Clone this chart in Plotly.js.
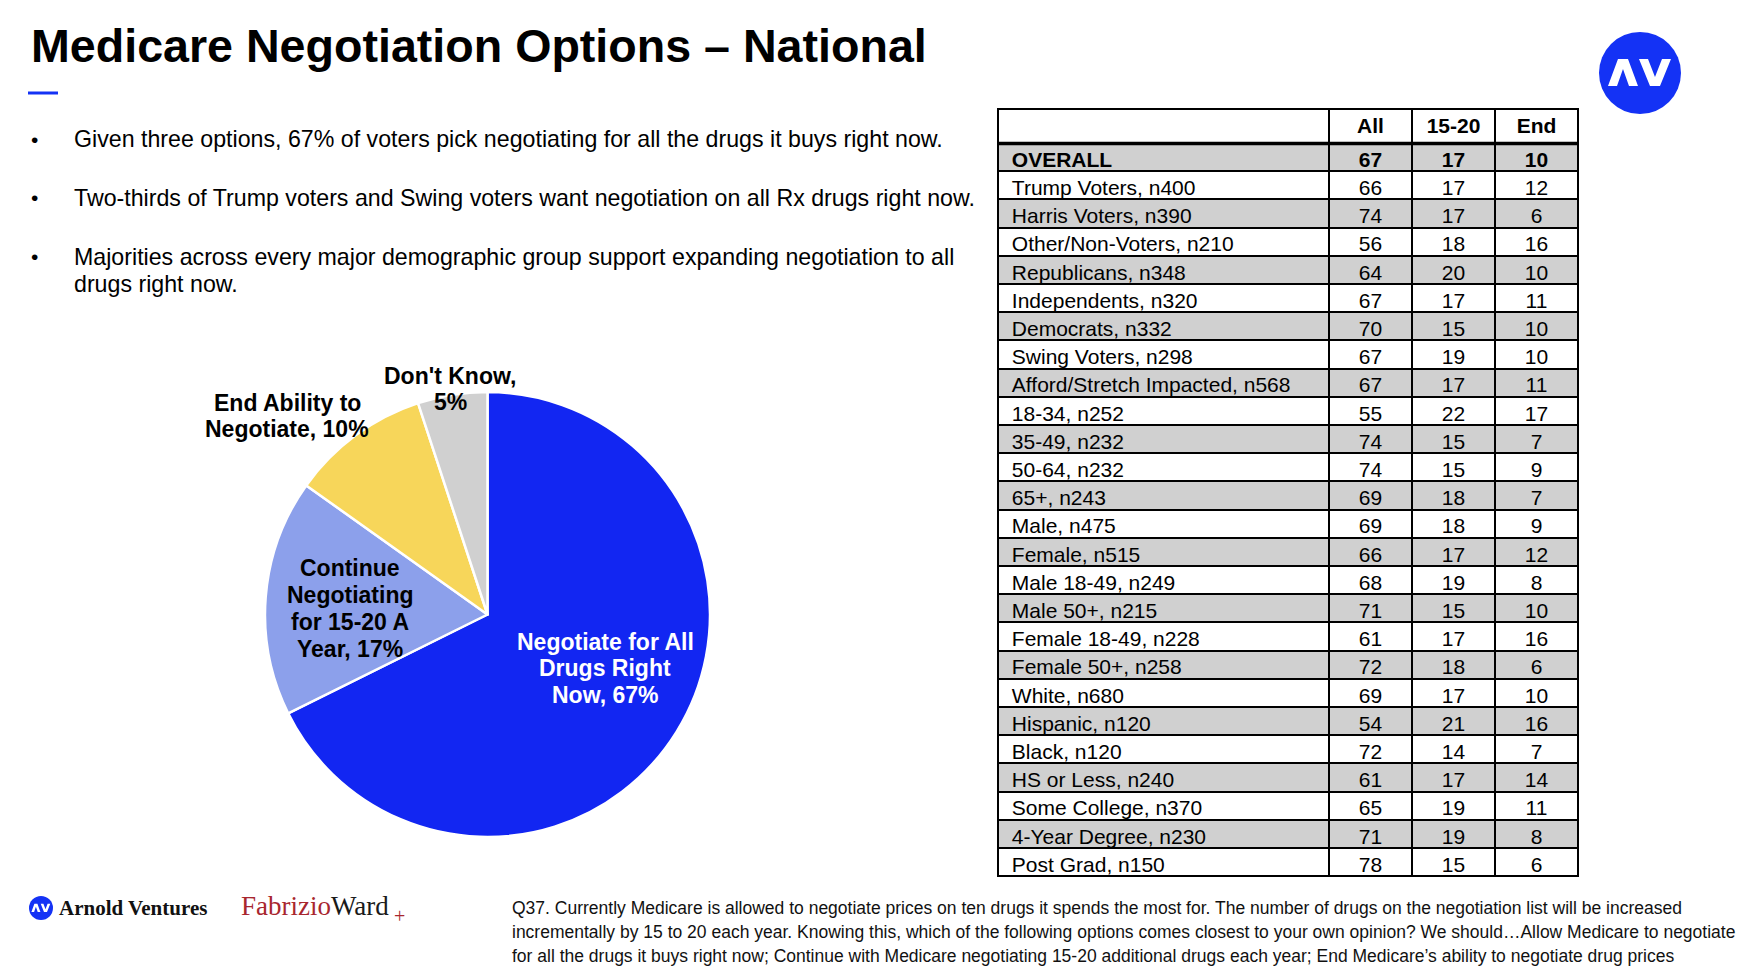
<!DOCTYPE html>
<html><head><meta charset="utf-8">
<script src="https://cdn.plot.ly/plotly-3.0.1.min.js"></script>
<style>html,body{margin:0;padding:0;background:#fff;} #chart{width:1762px;height:980px;}</style>
</head><body><div id="chart"></div>
<script>
// ---------- DATA ----------
const pieLabels = ['Negotiate for All Drugs Right Now', 'Continue Negotiating for 15-20 A Year', 'End Ability to Negotiate', "Don't Know"];
const pieLabelLines = [
  ['Negotiate for All', 'Drugs Right', 'Now'],
  ['Continue', 'Negotiating', 'for 15-20 A', 'Year'],
  ['End Ability to', 'Negotiate'],
  ["Don't Know", '']
];
const pieValues = [67, 17, 10, 5];
const pieColors = ['#1226f2', '#8ca0eb', '#f7d65a', '#d0d0d0'];

const headerLabels = ['', 'All', '15-20', 'End'];
const rowLabels = ['OVERALL', 'Trump Voters, n400', 'Harris Voters, n390', 'Other/Non-Voters, n210', 'Republicans, n348',
  'Independents, n320', 'Democrats, n332', 'Swing Voters, n298', 'Afford/Stretch Impacted, n568', '18-34, n252',
  '35-49, n232', '50-64, n232', '65+, n243', 'Male, n475', 'Female, n515', 'Male 18-49, n249', 'Male 50+, n215',
  'Female 18-49, n228', 'Female 50+, n258', 'White, n680', 'Hispanic, n120', 'Black, n120', 'HS or Less, n240',
  'Some College, n370', '4-Year Degree, n230', 'Post Grad, n150'];
const allValues = [67, 66, 74, 56, 64, 67, 70, 67, 67, 55, 74, 74, 69, 69, 66, 68, 71, 61, 72, 69, 54, 72, 61, 65, 71, 78];
const midValues = [17, 17, 17, 18, 20, 17, 15, 19, 17, 22, 15, 15, 18, 18, 17, 19, 15, 17, 18, 17, 21, 14, 17, 19, 19, 15];
const endValues = [10, 12, 6, 16, 10, 11, 10, 10, 11, 17, 7, 9, 7, 9, 12, 8, 10, 16, 6, 10, 16, 7, 14, 11, 8, 6];

const titleText = 'Medicare Negotiation Options – National';
const bulletLines = [
  ['Given three options, 67% of voters pick negotiating for all the drugs it buys right now.'],
  ['Two-thirds of Trump voters and Swing voters want negotiation on all Rx drugs right now.'],
  ['Majorities across every major demographic group support expanding negotiation to all', 'drugs right now.']
];
const footnoteLines = [
  'Q37. Currently Medicare is allowed to negotiate prices on ten drugs it spends the most for. The number of drugs on the negotiation list will be increased',
  'incrementally by 15 to 20 each year. Knowing this, which of the following options comes closest to your own opinion? We should…Allow Medicare to negotiate',
  'for all the drugs it buys right now; Continue with Medicare negotiating 15-20 additional drugs each year; End Medicare’s ability to negotiate drug prices'
];

// ---------- LAYOUT HELPERS ----------
const W = 1762, H = 980;
const X = p => p / W;
const Y = p => 1 - p / H;
const SANS = 'Liberation Sans, Arial, Helvetica, sans-serif';
const SERIF = 'Liberation Serif, Times New Roman, serif';
const BLUE = '#1432f5';

const annotations = [];
function txt(x, y, text, size, opts) {
  opts = opts || {};
  annotations.push({
    xref: 'paper', yref: 'paper', x: X(x), y: Y(y), text: text, showarrow: false,
    xanchor: opts.xanchor || 'left', yanchor: 'middle', align: opts.xanchor === 'center' ? 'center' : 'left',
    font: {family: opts.family || SANS, size: size, color: opts.color || '#000'}
  });
}

// Title
txt(29, 46, '<b>' + titleText + '</b>', 46.6);

// Bullets
const bulletY = [[139], [198], [257, 284]];
bulletLines.forEach((lines, i) => {
  txt(29, bulletY[i][0], '•', 21);
  lines.forEach((l, j) => txt(72, bulletY[i][j], l, 23.2));
});

// Pie labels (text from data arrays)
const pieLabelPos = [
  {x: 605, y: [642, 668, 695], color: '#fff'},
  {x: 350, y: [568, 595, 622, 649], color: '#000'},
  {x: 287, y: [403, 429], color: '#000'},
  {x: 450, y: [376, 402], color: '#000'}
];
pieLabelLines.forEach((lines, i) => {
  const pos = pieLabelPos[i];
  lines.forEach((l, j) => {
    let t = l;
    if (j === lines.length - 1) t = (l ? l + ', ' : '') + pieValues[i] + '%';
    else if (j === lines.length - 2 && lines[lines.length - 1] === '') t = l + ',';
    txt(pos.x, pos.y[j], '<b>' + t + '</b>', 23, {xanchor: 'center', color: pos.color});
  });
});

// Footer logos
txt(57, 908, '<b>Arnold Ventures</b>', 21, {family: SERIF, color: '#111'});
txt(239, 906, '<span style="color:#a8262e">Fabrizio</span>Ward', 27, {family: SERIF, color: '#1a1a1a'});
txt(392, 916, '+', 20, {family: SERIF, color: '#a8262e'});

// Footnote
const footY = [908, 932, 956];
footnoteLines.forEach((l, i) => txt(510, footY[i], l, 17.5, {color: '#111'}));

// ---------- SHAPES ----------
function avPath(cx, cy, s) {
  const lam = [[-32, 13], [-22, -14], [-12, -14], [-2, 13], [-11, 13], [-17, -4], [-23, 13]];
  const vee = [[-1, -14], [8, -14], [15, 4], [22, -14], [31, -14], [20, 13], [10, 13]];
  const toP = pts => 'M' + pts.map(p => X(cx + p[0] * s).toFixed(5) + ',' + Y(cy + p[1] * s).toFixed(5)).join(' L') + ' Z';
  return [toP(lam), toP(vee)];
}
const shapes = [];
shapes.push({type: 'rect', xref: 'paper', yref: 'paper', x0: X(28), x1: X(58), y0: Y(94.5), y1: Y(91.5), fillcolor: BLUE, line: {width: 0}});
shapes.push({type: 'circle', xref: 'paper', yref: 'paper', x0: X(1599), x1: X(1681), y0: Y(114), y1: Y(32), fillcolor: BLUE, line: {width: 0}});
avPath(1640, 73, 1).forEach(p => shapes.push({type: 'path', xref: 'paper', yref: 'paper', path: p, fillcolor: '#fff', line: {width: 0}}));
shapes.push({type: 'circle', xref: 'paper', yref: 'paper', x0: X(29), x1: X(53), y0: Y(920), y1: Y(896), fillcolor: BLUE, line: {width: 0}});
avPath(41, 908, 0.3).forEach(p => shapes.push({type: 'path', xref: 'paper', yref: 'paper', path: p, fillcolor: '#fff', line: {width: 0}}));
shapes.push({type: 'line', xref: 'paper', yref: 'paper', x0: X(997), x1: X(1579), y0: Y(143.5), y1: Y(143.5), line: {color: '#000', width: 3.5}});

// ---------- TRACES ----------
const GRAY = '#d0d0d0';
const rowFill = rowLabels.map((_, i) => i % 2 === 0 ? GRAY : '#ffffff');
const rowWeight = rowLabels.map((_, i) => i === 0 ? 700 : 400);
const NB = '\u00a0';

const pie = {
  type: 'pie', values: pieValues, labels: pieLabels, sort: false, direction: 'clockwise', rotation: 0,
  marker: {colors: pieColors, line: {color: '#ffffff', width: 2.5}},
  textinfo: 'none', hoverinfo: 'label+value',
  domain: {x: [X(265), X(710)], y: [Y(837), Y(392)]}
};

const table = {
  type: 'table',
  domain: {x: [X(998), X(1578)], y: [Y(880), Y(109)]},
  columnwidth: [331, 83, 83, 83],
  header: {
    values: headerLabels,
    align: ['left', 'center', 'center', 'center'],
    fill: {color: '#ffffff'},
    line: {color: '#000', width: 2},
    font: {family: SANS, size: 21, color: '#000', weight: 700},
    height: 34
  },
  cells: {
    values: [rowLabels.map(r => NB + r), allValues, midValues, endValues],
    align: ['left', 'center', 'center', 'center'],
    fill: {color: [rowFill, rowFill, rowFill, rowFill]},
    line: {color: '#000', width: 2},
    font: {family: SANS, size: 21, color: '#000', weight: [rowWeight, rowWeight, rowWeight, rowWeight]},
    height: 28.2
  }
};

const layout = {
  width: W, height: H, autosize: false,
  margin: {l: 0, r: 0, t: 0, b: 0, pad: 0},
  paper_bgcolor: '#fff', plot_bgcolor: '#fff',
  showlegend: false,
  annotations: annotations,
  shapes: shapes
};

Plotly.newPlot('chart', [pie, table], layout, {displayModeBar: false, staticPlot: true});
</script>
</body></html>
